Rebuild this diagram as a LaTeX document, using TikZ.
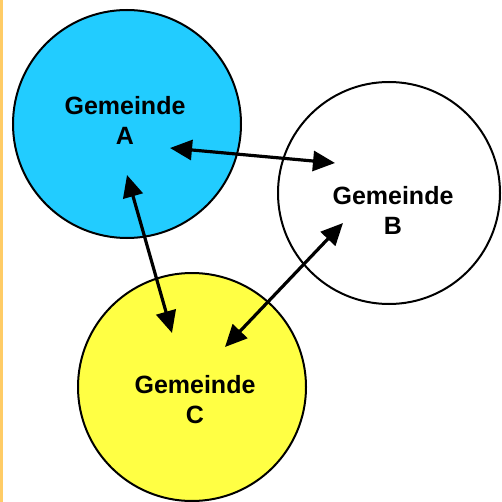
\documentclass[tikz,border=0pt]{standalone}
\usepackage{fontspec}
\setmainfont{Liberation Sans}
\usetikzlibrary{arrows.meta}
\definecolor{gblue}{HTML}{22CCFF}
\definecolor{gyellow}{HTML}{FFFF44}
\definecolor{gorange}{HTML}{FFCC66}
\tikzset{
  gem/.style={circle, draw=black, line width=2pt, inner sep=0pt},
  lbl/.style={align=center, font=\fontsize{25}{30}\selectfont\bfseries, inner sep=0pt},
  link/.style={line width=3.2pt, {Triangle[length=22pt,width=20pt]}-{Triangle[length=22pt,width=20pt]}}
}
\begin{document}
\begin{tikzpicture}[x=1pt,y=-1pt]
\useasboundingbox (0,0) rectangle (502,502);
\fill[white] (0,0) rectangle (502,502);
\fill[gorange] (0,0) rectangle (2.5,502);
\node[gem, fill=gblue, minimum size=228pt] (A) at (127,124) {};
\node[gem, fill=white, minimum size=222pt] (B) at (389,193) {};
\node[gem, fill=gyellow, minimum size=228pt] (C) at (192,387) {};
\node[lbl] (lA) at (125,120) {Gemeinde\\A};
\node[lbl] (lB) at (393,210) {Gemeinde\\B};
\node[lbl] (lC) at (195,400) {Gemeinde\\C};
\coordinate (ab1) at (170,148);
\coordinate (ab2) at (335,163);
\coordinate (ac1) at (127,175);
\coordinate (ac2) at (172,333);
\coordinate (bc1) at (343,223);
\coordinate (bc2) at (225,347);
\draw[link] (ab1) -- (ab2);
\draw[link] (ac1) -- (ac2);
\draw[link] (bc1) -- (bc2);
\end{tikzpicture}
\end{document}
